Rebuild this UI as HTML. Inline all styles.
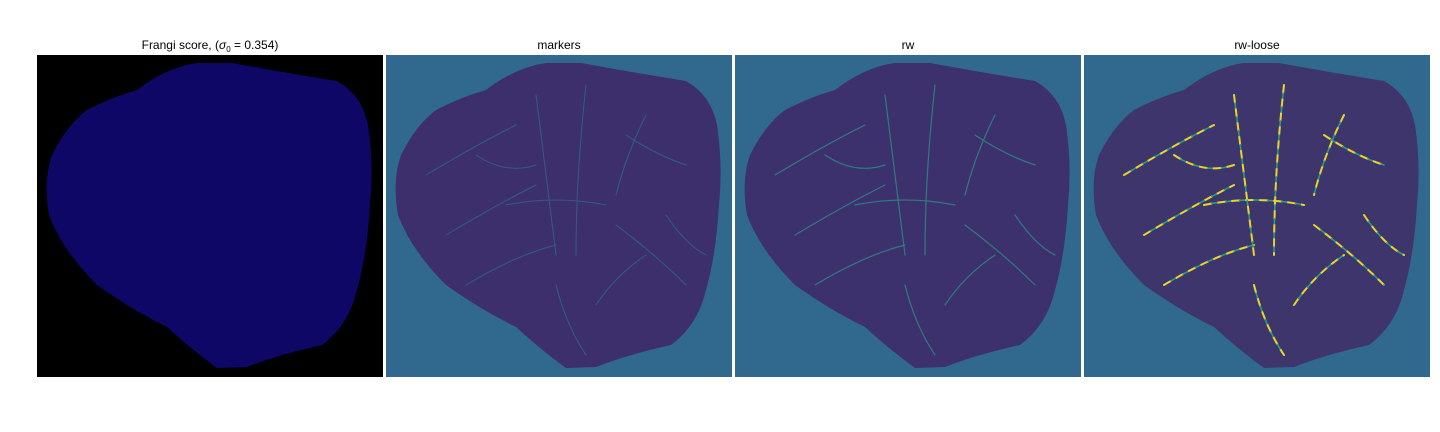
<!DOCTYPE html>
<html><head><meta charset="utf-8">
<style>
html,body{margin:0;padding:0;background:#fff;width:1440px;height:432px;overflow:hidden}
svg{display:block}
text{font-family:"Liberation Sans","DejaVu Sans",sans-serif;font-size:12px;fill:#000}
</style></head>
<body>
<svg width="1440" height="432" viewBox="0 0 1440 432">
<defs>
  <path id="blob" d="M100,35 Q130,12 160,8 L195,8 Q250,18 300,26 Q325,40 331,70 Q337,110 333,150 Q330,200 320,235 Q312,270 285,290 Q240,300 210,312 L180,313 Q155,295 130,272 Q95,255 60,230 Q25,195 12,160 Q6,125 15,100 Q30,70 50,55 Q75,42 100,35 Z"/>
  <g id="vessels" fill="none" stroke-linecap="round">
    <path d="M40,120 Q90,90 130,70 M60,180 Q110,150 150,130 M80,230 Q130,200 170,190 M150,40 Q160,120 170,200 M200,30 Q190,120 190,200 M210,250 Q230,220 260,200 M240,80 Q270,100 300,110 M120,150 Q170,140 220,150 M230,170 Q270,200 300,230 M170,230 Q180,270 200,300 M260,60 Q240,100 230,140 M90,100 Q120,120 150,110 M280,160 Q300,190 320,200"/>
  </g>
</defs>

<g transform="translate(37,55)">
  <rect width="346" height="322" fill="#000"/>
  <use href="#blob" fill="#0e0766"/>
</g>
<text x="210" y="49" text-anchor="middle">Frangi score, (<tspan font-style="italic">σ</tspan><tspan font-size="8" dy="3">0</tspan><tspan dy="-3"> = 0.354)</tspan></text>

<g transform="translate(386,55)">
  <rect width="346" height="322" fill="#31688e"/>
  <use href="#blob" fill="#3c2f6c"/>
  <use href="#vessels" stroke="#2a7f8a" stroke-width="1" opacity="0.6"/>
</g>
<text x="559" y="49" text-anchor="middle">markers</text>

<g transform="translate(735,55)">
  <rect width="346" height="322" fill="#31688e"/>
  <use href="#blob" fill="#3c306d"/>
  <use href="#vessels" stroke="#2a8f86" stroke-width="1.2" opacity="0.8"/>
</g>
<text x="908" y="49" text-anchor="middle">rw</text>

<g transform="translate(1084,55)">
  <rect width="346" height="322" fill="#31688e"/>
  <use href="#blob" fill="#3e356c"/>
  <use href="#vessels" stroke="#fde725" stroke-width="2" stroke-dasharray="8 6" opacity="0.9"/>
  <use href="#vessels" stroke="#21a38a" stroke-width="1.5" stroke-dasharray="5 9" stroke-dashoffset="6"/>
</g>
<text x="1257" y="49" text-anchor="middle">rw-loose</text>
</svg>
</body></html>
